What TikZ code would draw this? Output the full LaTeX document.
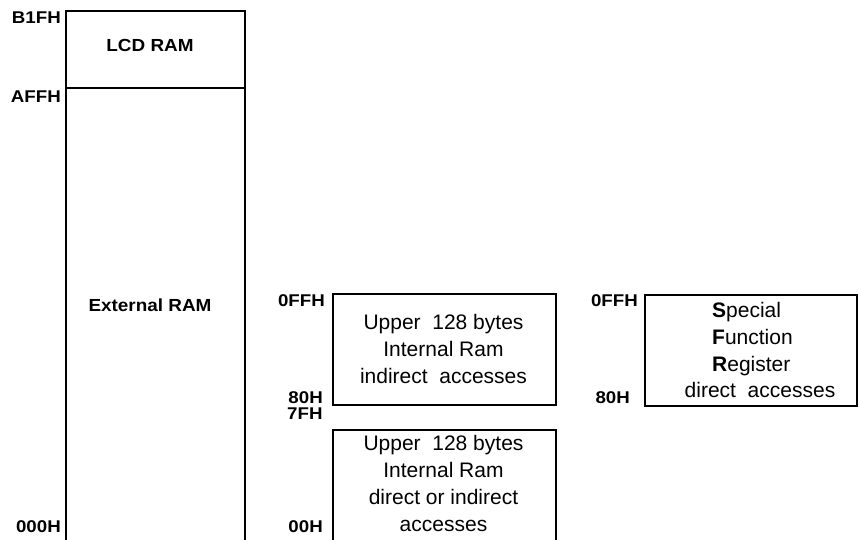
\documentclass[tikz,border=0pt]{standalone}
\usepackage{fontspec}
\setmainfont{Liberation Sans}
\newfontfamily\labfont[FakeStretch=1.1]{Liberation Sans}
\newfontfamily\titfont[FakeStretch=1.08]{Liberation Sans}
\begin{document}
\begin{tikzpicture}[x=1pt,y=-1pt,
  box/.style={line width=2.6pt},
  addr/.style={anchor=east,font=\labfont\fontsize{17}{20}\selectfont\bfseries,inner sep=0pt},
  title/.style={font=\titfont\fontsize{17.5}{20}\selectfont\bfseries,inner sep=0pt},
  body/.style={align=center,font=\fontsize{21}{27}\selectfont,inner sep=0pt}]
\useasboundingbox (0,0) rectangle (859,539);
% left column
\draw[box] (66,545) -- (66,11) -- (245,11) -- (245,545);
\draw[box] (66,88) -- (245,88);
\node[title] (lcd) at (150,45.5) {LCD RAM};
\node[title] (ext) at (150,305.5) {External RAM};
\node[addr] (b1f) at (61,18) {B1FH};
\node[addr] (aff) at (61,97) {AFFH};
\node[addr] (z0) at (61,527) {000H};
% middle boxes
\draw[box] (333,294) rectangle (556,405);
\draw[box] (333,545) -- (333,430) -- (556,430) -- (556,545);
\node[body] (up) at (443.5,348.5) {Upper\ \ 128 bytes\\Internal Ram\\indirect\ \ accesses};
\node[body] (lo) at (443.5,483) {Upper\ \ 128 bytes\\Internal Ram\\direct or indirect\\accesses};
\node[addr] (m1) at (325,301) {0FFH};
\node[addr] (m2) at (323,397.5) {80H};
\node[addr,anchor=west] (m3) at (287,414) {7FH};
\node[addr] (m4) at (323,527) {00H};
% right box
\draw[box] (645,295) rectangle (857,406);
\node[body,align=left,anchor=west] (sfr) at (712,339) {\textbf{S}pecial\\\textbf{F}unction\\\textbf{R}egister};
\node[body,anchor=base] (sfr2) at (760,397) {direct\ \ accesses};
\node[addr] (r1) at (638,301) {0FFH};
\node[addr] (r2) at (630,397.5) {80H};
\end{tikzpicture}
\end{document}
